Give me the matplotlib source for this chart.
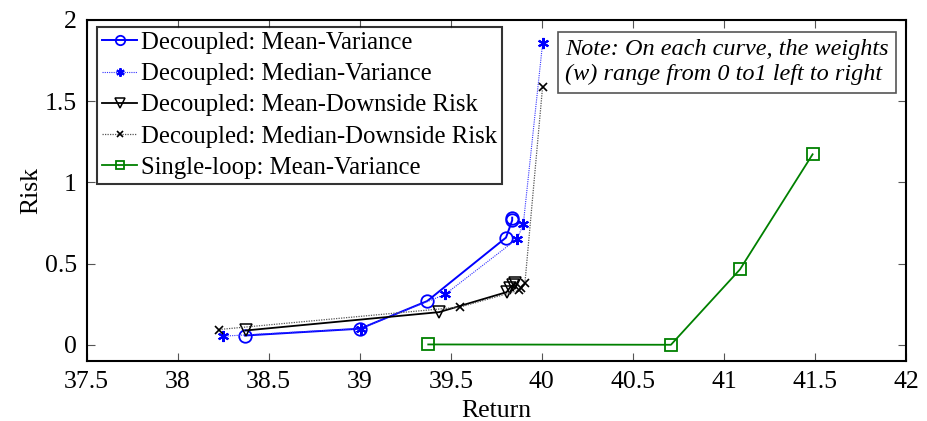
import matplotlib
matplotlib.use("Agg")
import matplotlib.pyplot as plt

plt.rcParams['font.family'] = ['Liberation Serif', 'DejaVu Serif']
plt.rcParams['mathtext.fontset'] = 'stix'

# Decoupled: Mean-Variance
mv_ret = [38.369, 39.002, 39.370, 39.803, 39.837, 39.837]
mv_risk = [0.057, 0.099, 0.269, 0.660, 0.766, 0.783]

# Decoupled: Median-Variance
medv_ret = [38.250, 39.005, 39.468, 39.865, 39.898, 40.004]
medv_risk = [0.053, 0.100, 0.310, 0.653, 0.742, 1.856]

# Decoupled: Mean-Downside Risk
mdr_ret = [38.373, 39.436, 39.806, 39.824, 39.843, 39.850]
mdr_risk = [0.088, 0.201, 0.324, 0.351, 0.370, 0.380]

# Decoupled: Median-Downside Risk
meddr_ret = [38.227, 39.550, 39.874, 39.883, 39.907, 40.004]
meddr_risk = [0.094, 0.232, 0.335, 0.351, 0.380, 1.588]

# Single-loop: Mean-Variance
sl_ret = [39.376, 40.709, 41.088, 41.487]
sl_risk = [0.002, 0.0, 0.464, 1.173]

x_ticks = [37.5, 38, 38.5, 39, 39.5, 40, 40.5, 41, 41.5, 42]
y_ticks = [0, 0.5, 1, 1.5, 2]

fig = plt.figure(figsize=(9.28, 4.21), dpi=100)
ax = fig.add_axes([0.0934, 0.1425, 0.8829, 0.81])

asterisk = (6, 2, 0)
ax.plot(mv_ret, mv_risk, color='#0000ff', lw=1.4, marker='o', ms=9,
        mfc='none', mew=1.3, label='Decoupled: Mean-Variance')
ax.plot(medv_ret, medv_risk, color='#3333ff', lw=0.8, ls=(0, (1, 1)), marker=asterisk,
        ms=8, mew=1.5, mec='#0000ff', label='Decoupled: Median-Variance')
ax.plot(mdr_ret, mdr_risk, color='black', lw=1.3, marker='v', ms=9,
        mfc='none', mew=1.1, label='Decoupled: Mean-Downside Risk')
ax.plot(meddr_ret, meddr_risk, color='#555555', lw=0.9, ls=(0, (1, 1)), marker='x',
        ms=6, mew=1.2, mec='black', label='Decoupled: Median-Downside Risk')
ax.plot(sl_ret, sl_risk, color='#008000', lw=1.3, marker='s', ms=8,
        mfc='none', mew=1.3, label='Single-loop: Mean-Variance')

ax.set_xlim(37.5, 42)
ax.set_ylim(-0.1, 2)
ax.set_xticks(x_ticks)
ax.set_xticklabels(['37.5', '38', '38.5', '39', '39.5', '40', '40.5', '41', '41.5', '42'])
ax.set_yticks(y_ticks)
ax.set_yticklabels(['0', '0.5', '1', '1.5', '2'])
ax.tick_params(direction='in', top=True, right=True, length=6, width=0.8,
               color='#555555', labelsize=18.5, pad=7)
for s in ax.spines.values():
    s.set_linewidth(1.5)

ax.set_xlabel('Return', fontsize=18.5, labelpad=5)
ax.set_ylabel('Risk', fontsize=18.5, labelpad=2)

leg = ax.legend(loc='upper left', bbox_to_anchor=(0.013, 0.98), fontsize=17.8,
                frameon=True, fancybox=False, edgecolor='black',
                handlelength=1.4, handletextpad=0.15, borderpad=0.2,
                labelspacing=0.36, borderaxespad=0.0, markerscale=0.75)
leg.get_frame().set_linewidth(1.5)

ax.text(0.584, 0.876, 'Note: On each curve, the weights\n(w) range from 0 to1 left to right',
        transform=ax.transAxes, ha='left', va='center', fontsize=17.5, style='italic',
        linespacing=1.25,
        bbox=dict(boxstyle='square,pad=0.3', fc='white', ec='#555555', lw=1.2))

fig.savefig('out.png', dpi=100)
